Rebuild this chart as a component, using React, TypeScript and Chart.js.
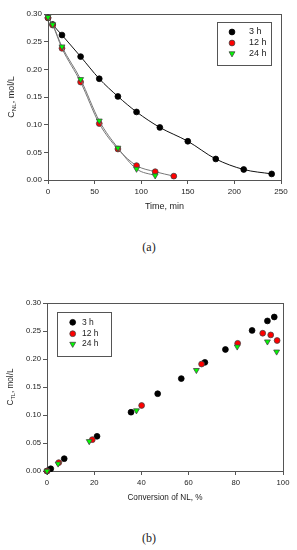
import React, { useEffect, useRef } from 'react';
import { Chart, registerables } from 'chart.js';
Chart.register(...registerables);

// ---------- Panel (a): concentration of NL vs time ----------
const timeA_3h = [0, 5, 15, 35, 55, 75, 95, 120, 150, 180, 210, 240];
const cNL_3h = [0.293, 0.281, 0.262, 0.223, 0.183, 0.151, 0.123, 0.095, 0.07, 0.038, 0.019, 0.011];
const timeA_12h = [0, 5, 15, 35, 55, 75, 95, 115, 135];
const cNL_12h = [0.293, 0.28, 0.238, 0.177, 0.102, 0.056, 0.026, 0.015, 0.007];
const timeA_24h = [0, 5, 15, 35, 55, 75, 95, 115];
const cNL_24h = [0.294, 0.281, 0.241, 0.182, 0.107, 0.058, 0.02, 0.008];

// ---------- Panel (b): concentration of TL vs conversion ----------
const conv_3h = [0, 1.6, 7.3, 21.2, 35.6, 46.9, 56.9, 66.9, 75.6, 86.9, 93.4, 96.3];
const cTL_3h = [0, 0.004, 0.022, 0.062, 0.105, 0.138, 0.165, 0.194, 0.217, 0.251, 0.268, 0.275];
const conv_12h = [0, 5.0, 19.2, 40.1, 65.5, 80.8, 91.4, 94.8, 97.5];
const cTL_12h = [0, 0.015, 0.056, 0.117, 0.191, 0.228, 0.246, 0.243, 0.233];
const conv_24h = [0, 4.7, 17.9, 37.9, 63.3, 80.6, 93.4, 97.3];
const cTL_24h = [0, 0.013, 0.053, 0.108, 0.18, 0.222, 0.231, 0.213];

const seriesLabels = ['3 h', '12 h', '24 h'];
const panelLabels = ['(a)', '(b)'];

const SANS = "'Liberation Sans', Arial, sans-serif";
const FRAME = '#555';
const TEXT = '#222';

const toXY = (xs: number[], ys: number[]) => xs.map((x, i) => ({ x, y: ys[i] }));

const markerStyles = [
  { shape: 'circle', fill: '#000000', stroke: '#000000' },
  { shape: 'circle', fill: '#ff0000', stroke: '#444444' },
  { shape: 'triangle', fill: '#00ff00', stroke: '#444444' },
];

function drawMarker(ctx: CanvasRenderingContext2D, shape: string, x: number, y: number, r: number, fill: string, stroke: string) {
  ctx.save();
  ctx.beginPath();
  if (shape === 'circle') {
    ctx.arc(x, y, r, 0, Math.PI * 2);
  } else {
    const s = Math.sin(Math.PI / 3) * r;
    ctx.moveTo(x, y + r);
    ctx.lineTo(x - s, y - r / 2);
    ctx.lineTo(x + s, y - r / 2);
    ctx.closePath();
  }
  ctx.fillStyle = fill;
  ctx.fill();
  ctx.lineWidth = 0.8;
  ctx.strokeStyle = stroke;
  ctx.stroke();
  ctx.restore();
}

type PanelCfg = {
  top: number;
  height: number;
  padTop: number;
  padRight: number;
  yWidth: number;
  xHeight: number;
  xMax: number;
  xStep: number;
  xTitle: string;
  xTitlePad: number;
  yMain: string;
  ySub: string;
  yRest: string;
  yTitleX: number;
  tickSize: number;
  titleSize: number;
  legend: { x: number; y: number; w: number; h: number; markerX: number; textX: number; rows: number[]; size: number };
  lines: boolean;
  data: { xs: number[]; ys: number[] }[];
  lineColors: string[];
};

const panels: PanelCfg[] = [
  {
    top: 0,
    height: 230,
    padTop: 14,
    padRight: 16,
    yWidth: 48,
    xHeight: 50,
    xMax: 250,
    xStep: 50,
    xTitle: 'Time, min',
    xTitlePad: 18,
    yMain: 'C',
    ySub: 'NL',
    yRest: ', mol/L',
    yTitleX: 12,
    tickSize: 8,
    titleSize: 9,
    legend: { x: 217, y: 22, w: 54, h: 43, markerX: 232, textX: 249, rows: [32, 43, 53.5], size: 9 },
    lines: true,
    data: [
      { xs: timeA_3h, ys: cNL_3h },
      { xs: timeA_12h, ys: cNL_12h },
      { xs: timeA_24h, ys: cNL_24h },
    ],
    lineColors: ['#111111', '#777777', '#777777'],
  },
  {
    top: 270,
    height: 250,
    padTop: 33,
    padRight: 14,
    yWidth: 47,
    xHeight: 49,
    xMax: 100,
    xStep: 20,
    xTitle: 'Conversion of NL, %',
    xTitlePad: 17,
    yMain: 'C',
    ySub: 'TL',
    yRest: ', mol/L',
    yTitleX: 11,
    tickSize: 7.7,
    titleSize: 8.2,
    legend: { x: 57, y: 42, w: 54, h: 44, markerX: 72.7, textX: 82, rows: [52.3, 63.7, 74], size: 8.5 },
    lines: false,
    data: [
      { xs: conv_3h, ys: cTL_3h },
      { xs: conv_12h, ys: cTL_12h },
      { xs: conv_24h, ys: cTL_24h },
    ],
    lineColors: ['#111111', '#777777', '#777777'],
  },
];

function Panel({ cfg }: { cfg: PanelCfg }) {
  const ref = useRef<HTMLCanvasElement | null>(null);
  useEffect(() => {
    if (!ref.current) return;

    const framePlugin = {
      id: 'frame',
      beforeDatasetsDraw(chart: any) {
        const { ctx, chartArea: a } = chart;
        ctx.save();
        ctx.strokeStyle = FRAME;
        ctx.lineWidth = 1;
        ctx.strokeRect(Math.round(a.left) + 0.5, Math.round(a.top) + 0.5, Math.round(a.right - a.left), Math.round(a.bottom - a.top));
        ctx.restore();
      },
    };

    const yTitlePlugin = {
      id: 'ytitle',
      afterDraw(chart: any) {
        const { ctx, chartArea: a } = chart;
        const big = cfg.titleSize;
        const small = cfg.titleSize * 0.68;
        ctx.save();
        ctx.fillStyle = TEXT;
        ctx.font = `${big}px ${SANS}`;
        const w1 = ctx.measureText(cfg.yMain).width;
        const w3 = ctx.measureText(cfg.yRest).width;
        ctx.font = `${small}px ${SANS}`;
        const w2 = ctx.measureText(cfg.ySub).width;
        const total = w1 + w2 + w3;
        const cy = (a.top + a.bottom) / 2;
        ctx.translate(cfg.yTitleX, cy);
        ctx.rotate(-Math.PI / 2);
        ctx.textBaseline = 'middle';
        ctx.textAlign = 'left';
        let x = -total / 2;
        ctx.font = `${big}px ${SANS}`;
        ctx.fillText(cfg.yMain, x, 0);
        x += w1;
        ctx.font = `${small}px ${SANS}`;
        ctx.fillText(cfg.ySub, x, big * 0.3);
        x += w2;
        ctx.font = `${big}px ${SANS}`;
        ctx.fillText(cfg.yRest, x, 0);
        ctx.restore();
      },
    };

    const legendPlugin = {
      id: 'boxlegend',
      afterDraw(chart: any) {
        const { ctx } = chart;
        const L = cfg.legend;
        ctx.save();
        ctx.fillStyle = '#ffffff';
        ctx.fillRect(L.x, L.y, L.w, L.h);
        ctx.strokeStyle = FRAME;
        ctx.lineWidth = 1;
        ctx.strokeRect(Math.round(L.x) + 0.5, Math.round(L.y) + 0.5, L.w, L.h);
        seriesLabels.forEach((lab, i) => {
          const m = markerStyles[i];
          const yy = L.rows[i];
          drawMarker(ctx, m.shape, L.markerX, yy, m.shape === 'circle' ? 2.9 : 3.4, m.fill, m.stroke);
          ctx.fillStyle = TEXT;
          ctx.font = `${L.size}px ${SANS}`;
          ctx.textBaseline = 'middle';
          ctx.textAlign = 'left';
          ctx.fillText(lab, L.textX, yy);
        });
        ctx.restore();
      },
    };

    const datasets = cfg.data.map((d, i) => {
      const m = markerStyles[i];
      return {
        label: seriesLabels[i],
        data: toXY(d.xs, d.ys),
        showLine: cfg.lines,
        borderColor: cfg.lineColors[i],
        borderWidth: 1,
        cubicInterpolationMode: 'monotone' as const,
        pointStyle: m.shape === 'circle' ? 'circle' : 'triangle',
        pointRotation: m.shape === 'circle' ? 0 : 180,
        pointRadius: m.shape === 'circle' ? 2.9 : 3.4,
        pointBackgroundColor: m.fill,
        pointBorderColor: m.stroke,
        pointBorderWidth: 0.8,
        order: 3 - i,
        clip: false as any,
      };
    });

    const chart = new Chart(ref.current, {
      type: 'scatter',
      data: { datasets: datasets as any },
      plugins: [framePlugin, yTitlePlugin, legendPlugin],
      options: {
        animation: false,
        responsive: false,
        maintainAspectRatio: false,
        devicePixelRatio: 1,
        layout: { padding: { top: cfg.padTop, right: cfg.padRight, left: 0, bottom: 0 } },
        plugins: { legend: { display: false }, tooltip: { enabled: false }, title: { display: false } },
        scales: {
          x: {
            type: 'linear',
            min: 0,
            max: cfg.xMax,
            ticks: {
              stepSize: cfg.xStep,
              color: TEXT,
              font: { family: SANS, size: cfg.tickSize },
              padding: 3,
              maxRotation: 0,
              callback: (v: any) => String(v),
            },
            grid: { display: true, drawOnChartArea: false, drawTicks: true, tickLength: 4, color: FRAME },
            border: { display: true, color: FRAME },
            title: {
              display: true,
              text: cfg.xTitle,
              color: TEXT,
              font: { family: SANS, size: cfg.titleSize },
              padding: { top: 0, bottom: cfg.xTitlePad },
            },
            afterFit: (s: any) => {
              s.height = cfg.xHeight;
            },
          },
          y: {
            type: 'linear',
            min: 0,
            max: 0.3,
            ticks: {
              stepSize: 0.05,
              color: TEXT,
              font: { family: SANS, size: cfg.tickSize },
              padding: 2,
              callback: (v: any) => Number(v).toFixed(2),
            },
            grid: { display: true, drawOnChartArea: false, drawTicks: true, tickLength: 4, color: FRAME },
            border: { display: true, color: FRAME },
            afterFit: (s: any) => {
              s.width = cfg.yWidth;
            },
          },
        },
      } as any,
    });
    return () => chart.destroy();
  }, [cfg]);

  return (
    <canvas
      ref={ref}
      width={297}
      height={cfg.height}
      style={{ position: 'absolute', left: 0, top: cfg.top, width: 297, height: cfg.height, display: 'block' }}
    />
  );
}

export default function App() {
  return (
    <div style={{ position: 'absolute', left: 0, top: 0, width: 297, height: 550, background: '#ffffff', overflow: 'hidden' }}>
      {panels.map((p, i) => (
        <Panel key={i} cfg={p} />
      ))}
      {panelLabels.map((lab, i) => (
        <div
          key={lab}
          style={{
            position: 'absolute',
            left: 0,
            width: 298,
            top: i === 0 ? 239 : 530,
            textAlign: 'center',
            fontFamily: "'Liberation Serif', 'DejaVu Serif', serif",
            fontSize: 12,
            lineHeight: '16px',
            color: '#222',
          }}
        >
          {lab}
        </div>
      ))}
    </div>
  );
}
